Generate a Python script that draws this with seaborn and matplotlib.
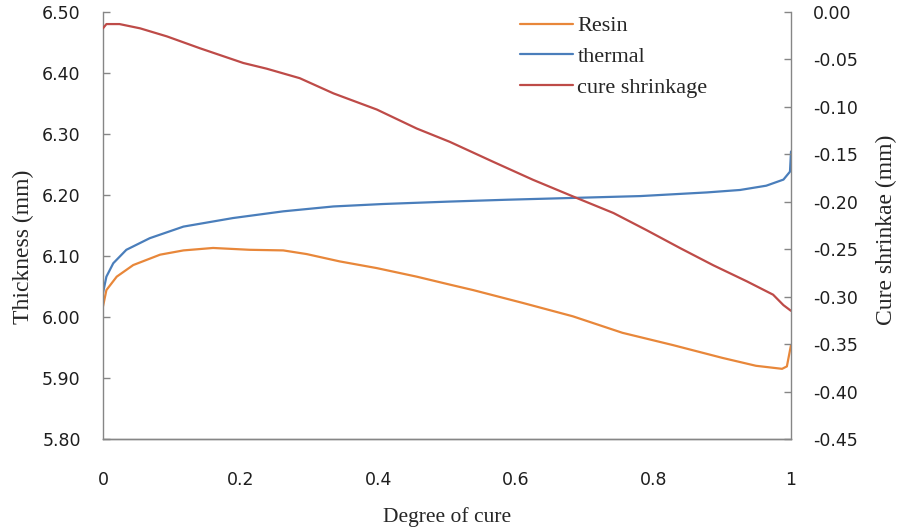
import pandas as pd
import matplotlib
matplotlib.use("Agg")
import matplotlib.pyplot as plt
import seaborn as sns

# valores
x_resin = [0.0, 0.005, 0.020, 0.044, 0.083, 0.117, 0.160, 0.213, 0.262, 0.296, 0.344,
           0.398, 0.456, 0.504, 0.538, 0.610, 0.683, 0.755, 0.828, 0.900, 0.949, 0.987,
           0.994, 1.0]
resin = [6.017, 6.044, 6.066, 6.085, 6.102, 6.109, 6.113, 6.110, 6.109, 6.103, 6.091,
         6.080, 6.066, 6.053, 6.044, 6.023, 6.001, 5.974, 5.954, 5.933, 5.920, 5.915,
         5.919, 5.954]

x_thermal = [0.0, 0.005, 0.015, 0.034, 0.068, 0.117, 0.189, 0.262, 0.335, 0.407, 0.504,
             0.587, 0.684, 0.781, 0.878, 0.926, 0.964, 0.989, 0.9985, 1.0]
thermal = [6.039, 6.066, 6.088, 6.110, 6.129, 6.148, 6.162, 6.173, 6.181, 6.185, 6.189,
           6.192, 6.195, 6.198, 6.204, 6.208, 6.215, 6.225, 6.238, 6.271]

x_cure = [0.0, 0.005, 0.024, 0.054, 0.093, 0.141, 0.204, 0.238, 0.286, 0.335, 0.398,
          0.456, 0.504, 0.567, 0.625, 0.688, 0.742, 0.790, 0.839, 0.887, 0.936, 0.974,
          0.989, 1.0]
cure = [-0.0175, -0.013, -0.013, -0.0175, -0.026, -0.0385, -0.054, -0.060, -0.070, -0.086,
        -0.103, -0.123, -0.137, -0.158, -0.177, -0.196, -0.212, -0.230, -0.249, -0.267,
        -0.284, -0.298, -0.309, -0.315]

x_ticks = [0, 0.2, 0.4, 0.6, 0.8, 1]
x_tick_labels = ['0', '0.2', '0.4', '0.6', '0.8', '1']
left_ticks = [5.80, 5.90, 6.00, 6.10, 6.20, 6.30, 6.40, 6.50]
right_ticks = [-0.45, -0.40, -0.35, -0.30, -0.25, -0.20, -0.15, -0.10, -0.05, 0.00]

color_resin = '#E8873A'
color_thermal = '#4A7EBB'
color_cure = '#BE4B48'
gris = '#868686'

sns.set_style("white")
plt.rcParams['font.family'] = ['DejaVu Sans']

fig = plt.figure(figsize=(9, 5.28), dpi=100)
ax = fig.add_axes([0.1144, 0.1685, 0.7645, 0.8093])
ax2 = ax.twinx()

df_resin = pd.DataFrame({'x': x_resin, 'y': resin})
df_thermal = pd.DataFrame({'x': x_thermal, 'y': thermal})
df_cure = pd.DataFrame({'x': x_cure, 'y': cure})

sns.lineplot(ax=ax, data=df_resin, x='x', y='y', color=color_resin, linewidth=1.6, label='Resin')
sns.lineplot(ax=ax, data=df_thermal, x='x', y='y', color=color_thermal, linewidth=1.6, label='thermal')
sns.lineplot(ax=ax2, data=df_cure, x='x', y='y', color=color_cure, linewidth=1.6, label='cure shrinkage')

ax.set_xlim(0, 1)
ax.set_ylim(5.80, 6.50)
ax2.set_ylim(-0.45, 0.00)

ax.set_xticks(x_ticks, x_tick_labels)
ax.set_yticks(left_ticks, [f'{v:.2f}' for v in left_ticks])
ax2.set_yticks(right_ticks, [f'{v:.2f}' for v in right_ticks])

txt = '#1e1e1e'
ax.tick_params(axis='x', direction='in', length=5, width=1, color=gris, pad=23, labelsize=12.5, labelcolor=txt)
ax.tick_params(axis='y', direction='in', length=5, width=1, color=gris, pad=16, labelsize=12.5, labelcolor=txt)
ax2.tick_params(axis='y', direction='in', length=5, width=1, color=gris, pad=16, labelsize=12.5, labelcolor=txt)

for a in (ax, ax2):
    a.spines['top'].set_visible(False)
    for s in ('left', 'right', 'bottom'):
        a.spines[s].set_color(gris)
        a.spines[s].set_linewidth(1)
ax.spines['right'].set_visible(False)
ax2.spines['left'].set_visible(False)

serif = ['Liberation Serif', 'DejaVu Serif']
ax.set_xlabel('Degree of cure', fontsize=15.5, family=serif, labelpad=13)
ax.set_ylabel('Thickness (mm)', fontsize=17, family=serif, labelpad=8)
ax.yaxis.set_label_coords(-0.1, 0.45)
ax2.set_ylabel('Cure shrinkae (mm)', fontsize=17, family=serif, labelpad=14)
ax2.yaxis.set_label_coords(1.123, 0.49)

h1, l1 = ax.get_legend_handles_labels()
h2, l2 = ax2.get_legend_handles_labels()
if ax2.get_legend():
    ax2.get_legend().remove()
if ax.get_legend():
    ax.get_legend().remove()
leg = fig.legend(h1 + h2, l1 + l2, loc='upper left', bbox_to_anchor=(0.565, 0.991),
                 frameon=False, borderpad=0, handlelength=2.4, handletextpad=0.2,
                 labelspacing=0.45, prop={'family': serif, 'size': 16})

plt.savefig('out.png', dpi=100)
